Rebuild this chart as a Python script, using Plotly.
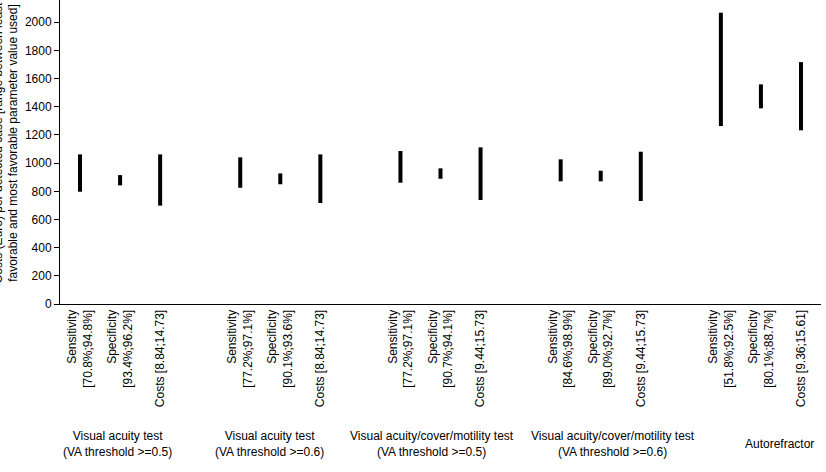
import plotly.graph_objects as go

groups = ["Visual acuity test<br>(VA threshold >=0.5)",
          "Visual acuity test<br>(VA threshold >=0.6)",
          "Visual acuity/cover/motility test<br>(VA threshold >=0.5)",
          "Visual acuity/cover/motility test<br>(VA threshold >=0.6)",
          "Autorefractor"]
items = [
    ["Sensitivity<br>[70.8%;94.8%]", "Specificity<br>[93.4%;96.2%]", "Costs [8.84;14.73]"],
    ["Sensitivity<br>[77.2%;97.1%]", "Specificity<br>[90.1%;93.6%]", "Costs [8.84;14.73]"],
    ["Sensitivity<br>[77.2%;97.1%]", "Specificity<br>[90.7%;94.1%]", "Costs [9.44;15.73]"],
    ["Sensitivity<br>[84.6%;98.9%]", "Specificity<br>[89.0%;92.7%]", "Costs [9.44;15.73]"],
    ["Sensitivity<br>[51.8%;92.5%]", "Specificity<br>[80.1%;88.7%]", "Costs [9.36;15.61]"],
]
low = [797, 842, 698, 825, 850, 717, 861, 889, 738, 871, 871, 731, 1263, 1389, 1233]
high = [1062, 915, 1062, 1041, 927, 1062, 1086, 963, 1112, 1027, 946, 1081, 2068, 1559, 1717]

# category positions: 3 items per group with one empty slot between groups
xpos = []
labels = []
for g, its in enumerate(items):
    for i, t in enumerate(its):
        xpos.append(g * 4 + i)
        labels.append(t)

font = "Arial, Liberation Sans, sans-serif"

fig = go.Figure()
fig.add_trace(go.Bar(
    x=xpos, y=[h - l for h, l in zip(high, low)], base=low,
    width=0.1, marker=dict(color="black", line=dict(width=0)),
    showlegend=False, hoverinfo="skip"))

fig.update_layout(
    width=826, height=472,
    margin=dict(l=60, r=5, t=0, b=168),
    paper_bgcolor="white", plot_bgcolor="white",
    font=dict(family=font, size=12, color="black"),
    xaxis=dict(range=[-0.5, 18.5], tickvals=xpos, ticktext=labels,
               tickangle=-90, showgrid=False, zeroline=False,
               showline=True, linecolor="black", linewidth=1, ticks="",
               tickfont=dict(size=12)),
    yaxis=dict(range=[0, 2158], dtick=200, tick0=0, showgrid=False,
               zeroline=False, showline=True, linecolor="black",
               linewidth=1, ticks="outside", ticklen=5, tickcolor="black",
               tickfont=dict(size=12)),
)

# group labels
group_centers = [0.93, 4.74, 8.79, 13.3, 17.46]
for gx, gt in zip(group_centers, groups):
    fig.add_annotation(x=gx, xref="x", y=-0.462, yref="paper",
                       text=gt, showarrow=False, xanchor="center",
                       yanchor="middle", font=dict(size=12))

fig.add_annotation(
    text="Costs (Euro) per detected case [range between least<br>favorable and most favorable parameter value used]",
    textangle=-90, x=0, xref="paper", xanchor="center", xshift=-54.5,
    y=0.53, yref="paper", yanchor="middle", showarrow=False,
    font=dict(size=12))

fig.write_html("out.html")
